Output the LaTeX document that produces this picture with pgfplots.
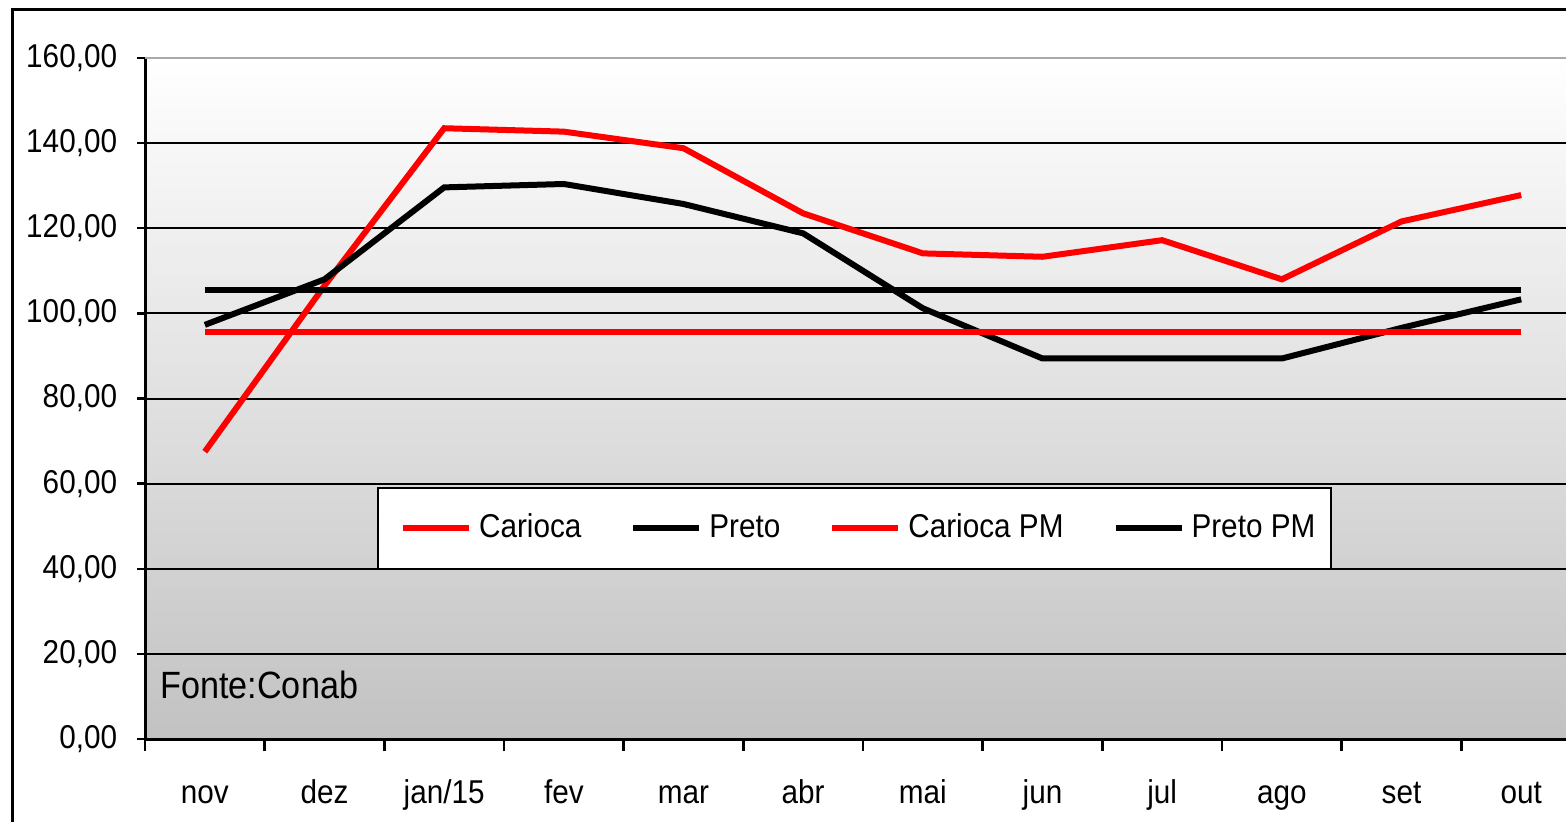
\documentclass[border=0pt]{standalone}
\usepackage{fontspec}
\setmainfont{Liberation Sans}[FakeStretch=0.9]
\usepackage{pgfplots}
\pgfplotsset{compat=1.18}
\definecolor{bggray}{RGB}{194,194,194}
\definecolor{topgray}{RGB}{170,170,170}
\definecolor{pmred}{RGB}{255,0,0}
\begin{document}
\fontsize{16.5pt}{19pt}\selectfont
\begin{tikzpicture}
\begin{axis}[
  at={(72.5pt,41pt)}, anchor=south west,
  width=718pt, height=340.5pt, scale only axis,
  xmin=-0.5, xmax=11.5, ymin=0, ymax=160,
  axis lines=left, axis line style={-, line width=1.5pt, black},
  tick align=outside,
  tick style={black, line width=1.2pt},
  xtick={-0.5,0.5,...,11.5},
  xticklabels={nov,dez,jan/15,fev,mar,abr,mai,jun,jul,ago,set,out},
  x tick label as interval,
  major x tick style={/pgfplots/major tick length=6pt},
  major y tick style={/pgfplots/major tick length=4pt},
  ytick={0,20,...,140},
  extra y ticks={160},
  extra y tick style={grid style={topgray, line width=1pt}},
  ymajorgrids,
  grid style={black, line width=1pt},
  /pgf/number format/.cd, fixed, fixed zerofill, precision=2, use comma, assume math mode=true,
  /pgfplots/.cd,
  ticklabel style={font=\fontsize{16.5pt}{19pt}\selectfont},
  yticklabel style={xshift=-4pt},
  xticklabel style={anchor=base, yshift=-28pt},
  axis background/.style={top color=white, bottom color=bggray},
  legend columns=4,
  legend image code/.code={\path (0pt,0pt); \draw[#1] (5pt,0pt) -- (38pt,0pt);},
  legend style={at={(axis description cs:0.1616,0.370)}, anchor=north west,
    draw=black, line width=1pt, fill=white, inner xsep=6pt, inner ysep=11pt,
    font=\fontsize{16.5pt}{19pt}\selectfont,
    /tikz/every odd column/.append style={column sep=1.5pt},
    /tikz/every even column/.append style={column sep=17.5pt}},
]
\addplot[pmred, line width=3pt] coordinates {
 (0,67.5) (1,106.5) (2,143.5) (3,142.7) (4,138.8) (5,123.5) (6,114.1) (7,113.3) (8,117.2) (9,108.0) (10,121.6) (11,127.8)};
\addlegendentry{Carioca}
\addplot[black, line width=3pt] coordinates {
 (0,97.3) (1,108.0) (2,129.6) (3,130.4) (4,125.7) (5,118.8) (6,101.2) (7,89.4) (8,89.4) (9,89.4) (10,96.6) (11,103.3)};
\addlegendentry{Preto}
\addplot[pmred, line width=3pt] coordinates {
 (0,95.6) (1,95.6) (2,95.6) (3,95.6) (4,95.6) (5,95.6) (6,95.6) (7,95.6) (8,95.6) (9,95.6) (10,95.6) (11,95.6)};
\addlegendentry{Carioca PM}
\addplot[black, line width=3pt] coordinates {
 (0,105.6) (1,105.6) (2,105.6) (3,105.6) (4,105.6) (5,105.6) (6,105.6) (7,105.6) (8,105.6) (9,105.6) (10,105.6) (11,105.6)};
\addlegendentry{Preto PM}
\node[anchor=west, inner sep=0pt, font=\fontsize{19pt}{22pt}\selectfont] at (axis description cs:0.0104,0.079) {Fonte:Conab};
\end{axis}
\draw[line width=1.5pt, black] (6pt,-20pt) -- (6pt,405.5pt) -- (820pt,405.5pt);
\pgfresetboundingbox
\useasboundingbox (0pt,0pt) rectangle (783pt,410.5pt);
\end{tikzpicture}
\end{document}
